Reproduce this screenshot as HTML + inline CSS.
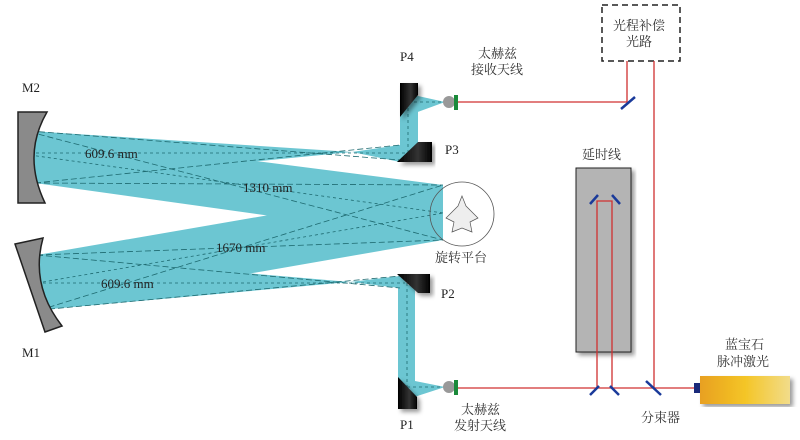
<!DOCTYPE html>
<html><head><meta charset="utf-8"><style>
body{margin:0;background:#fff}
svg text{font-family:"Liberation Serif","Noto Serif CJK SC",serif;fill:#222}
.cjk{font-family:"Liberation Serif","Noto Serif CJK SC",serif;font-size:13px;fill:#333}
</style></head><body>
<svg width="800" height="435" viewBox="0 0 800 435" xmlns="http://www.w3.org/2000/svg">
<defs>
<linearGradient id="las" x1="0" x2="1"><stop offset="0" stop-color="#e8a020"/><stop offset="0.5" stop-color="#f4c526"/><stop offset="1" stop-color="#f2dc8a"/></linearGradient>
<linearGradient id="blk" x1="0" x2="1"><stop offset="0" stop-color="#000"/><stop offset="0.6" stop-color="#333"/><stop offset="1" stop-color="#000"/></linearGradient>
<filter id="sh"><feDropShadow dx="3" dy="3" stdDeviation="2" flood-opacity="0.4"/></filter>
</defs>
<g fill="#6cc6d2" stroke="none">
<polygon points="30,132 443,185 443,240 35,183"/>
<polygon points="37,255 443,185 443,240 40,310"/>
<polygon points="30,131 352,152 35,183"/>
<polygon points="352,152 400,145 415,160 400,162"/>
<polygon points="400,100 418,100 418,148 400,160"/>
<polygon points="400,92 445,102 404,117"/>
<polygon points="37,255 350,282 40,310"/>
<polygon points="350,282 400,276 413,290 400,288"/>
<polygon points="398,285 415,285 415,385 398,385"/>
<polygon points="400,378 445,387 405,400"/>
</g>
<g stroke="#1e6a70" stroke-width="0.8" stroke-dasharray="6,3" fill="none">
<line x1="30" y1="132" x2="443" y2="240"/><line x1="35" y1="183" x2="443" y2="185"/>
<line x1="37" y1="255" x2="443" y2="240"/><line x1="40" y1="310" x2="443" y2="185"/>
<line x1="30" y1="155" x2="443" y2="213" stroke-dasharray="3,3"/>
<line x1="37" y1="283" x2="443" y2="213" stroke-dasharray="3,3"/>
<line x1="30" y1="131" x2="400" y2="160"/><line x1="35" y1="183" x2="400" y2="145"/>
<line x1="30" y1="153" x2="410" y2="153" stroke-dasharray="3,3"/>
<line x1="37" y1="255" x2="400" y2="288"/><line x1="40" y1="310" x2="400" y2="276"/>
<line x1="37" y1="283" x2="405" y2="283" stroke-dasharray="3,3"/>
<line x1="408" y1="153" x2="408" y2="102" stroke-dasharray="3,3"/><line x1="408" y1="102" x2="445" y2="102" stroke-dasharray="3,3"/>
<line x1="407" y1="283" x2="407" y2="387" stroke-dasharray="3,3"/><line x1="407" y1="387" x2="445" y2="387" stroke-dasharray="3,3"/>
</g>
<path d="M18,112 L47,112 Q22,155 45,203 L18,203 Z" fill="#8a8a8a" stroke="#222" stroke-width="1.5"/>
<path d="M15,244 L43,238 Q30,285 62,326 L45,332 Z" fill="#8a8a8a" stroke="#222" stroke-width="1.5"/>
<circle cx="462" cy="214" r="32" fill="none" stroke="#555" stroke-width="0.8"/>
<g fill="#eee" stroke="#555" stroke-width="0.7"><path d="M462,196 L466,206 L478,218 L470,222 L472,232 L462,228 L452,232 L454,222 L446,218 L458,206 Z"/></g>
<g fill="url(#blk)" filter="url(#sh)">
<polygon points="400,83 418,83 418,95 400,117"/>
<polygon points="397,162 432,162 432,142 418,142"/>
<polygon points="397,274 430,274 430,293 418,293"/>
<polygon points="398,377 417,397 417,409 398,409"/>
</g>
<circle cx="449" cy="102" r="6" fill="#999"/><rect x="454" y="95" width="4" height="15" fill="#1a8a3a"/>
<circle cx="449" cy="387" r="6" fill="#999"/><rect x="454" y="380" width="4" height="15" fill="#1a8a3a"/>
<rect x="576" y="168" width="55" height="184" fill="#b4b4b4" stroke="#222" filter="url(#sh)"/>
<rect x="602" y="5" width="78" height="56" fill="#fff" stroke="#222" stroke-width="1.5" stroke-dasharray="6,4"/>
<g stroke="#d03030" stroke-width="1.3" fill="none">
<polyline points="458,102 627,102 627,61"/>
<line x1="654" y1="61" x2="654" y2="388"/>
<line x1="458" y1="388" x2="695" y2="388"/>
<polyline points="597,388 597,201 612,201 612,388"/>
</g>
<g stroke="#1a3a9a" stroke-width="2.5">
<line x1="621" y1="109" x2="635" y2="97"/>
<line x1="646" y1="381" x2="661" y2="395"/>
<line x1="590" y1="204" x2="598" y2="195"/><line x1="612" y1="195" x2="620" y2="204"/>
<line x1="590" y1="395" x2="599" y2="386"/><line x1="610" y1="386" x2="619" y2="395"/>
</g>
<rect x="694" y="383" width="6" height="10" fill="#1a2a7a"/>
<rect x="700" y="376" width="90" height="28" fill="url(#las)" filter="url(#sh)"/>
<g font-size="13">
<text x="22" y="92">M2</text><text x="22" y="357">M1</text>
<text x="400" y="61">P4</text><text x="445" y="154">P3</text>
<text x="441" y="298">P2</text><text x="400" y="429">P1</text>
<text x="85" y="158">609.6 mm</text>
<text x="243" y="192">1310 mm</text>
<text x="216" y="252">1670 mm</text>
<text x="101" y="288">609.6 mm</text>
</g>
<text class="cjk" x="478" y="58">太赫兹</text><text class="cjk" x="471" y="74">接收天线</text>
<text class="cjk" x="461" y="414">太赫兹</text><text class="cjk" x="454" y="430">发射天线</text>
<text class="cjk" x="613" y="30">光程补偿</text><text class="cjk" x="626" y="46">光路</text>
<text class="cjk" x="582" y="159">延时线</text>
<text class="cjk" x="435" y="262">旋转平台</text>
<text class="cjk" x="725" y="349">蓝宝石</text><text class="cjk" x="717" y="366">脉冲激光</text>
<text class="cjk" x="641" y="422">分束器</text>
</svg>
</body></html>
